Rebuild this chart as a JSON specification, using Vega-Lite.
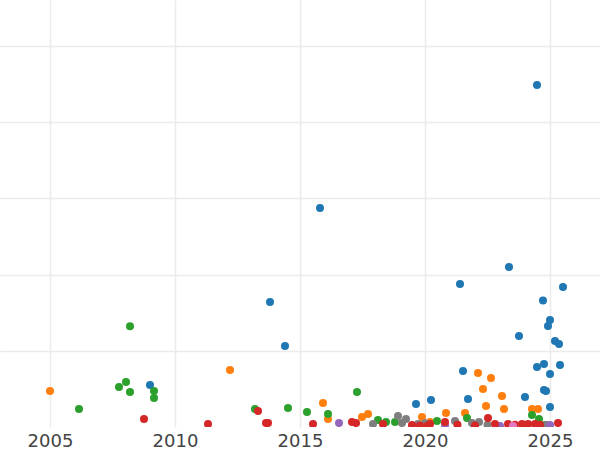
{
  "$schema": "https://vega.github.io/schema/vega-lite/v6.json",
  "width": 600,
  "height": 427,
  "autosize": "none",
  "padding": {"left": 0, "top": 0, "right": 0, "bottom": 23},
  "background": "white",
  "config": {
    "view": {"stroke": null},
    "axis": {"gridColor": "#ebebeb", "gridWidth": 1.5, "domain": false, "ticks": false, "labelFont": "DejaVu Sans", "labelColor": "#444444"}
  },
  "data": {
    "values": [
      {"year": 2024.48, "value": 44.85, "group": "A"},
      {"year": 2015.8, "value": 28.72, "group": "A"},
      {"year": 2023.36, "value": 20.98, "group": "A"},
      {"year": 2021.4, "value": 18.75, "group": "A"},
      {"year": 2025.52, "value": 18.36, "group": "A"},
      {"year": 2013.8, "value": 16.39, "group": "A"},
      {"year": 2024.72, "value": 16.59, "group": "A"},
      {"year": 2025.0, "value": 14.03, "group": "A"},
      {"year": 2024.92, "value": 13.25, "group": "A"},
      {"year": 2023.76, "value": 11.93, "group": "A"},
      {"year": 2025.2, "value": 11.28, "group": "A"},
      {"year": 2025.36, "value": 10.89, "group": "A"},
      {"year": 2014.4, "value": 10.62, "group": "A"},
      {"year": 2024.76, "value": 8.26, "group": "A"},
      {"year": 2024.48, "value": 7.87, "group": "A"},
      {"year": 2025.4, "value": 8.13, "group": "A"},
      {"year": 2021.52, "value": 7.34, "group": "A"},
      {"year": 2025.0, "value": 6.95, "group": "A"},
      {"year": 2024.76, "value": 4.85, "group": "A"},
      {"year": 2024.84, "value": 4.72, "group": "A"},
      {"year": 2009.0, "value": 5.51, "group": "A"},
      {"year": 2021.72, "value": 3.67, "group": "A"},
      {"year": 2024.0, "value": 3.93, "group": "A"},
      {"year": 2020.24, "value": 3.54, "group": "A"},
      {"year": 2019.64, "value": 3.02, "group": "A"},
      {"year": 2025.0, "value": 2.62, "group": "A"},
      {"year": 2005.0, "value": 4.72, "group": "B"},
      {"year": 2012.2, "value": 7.48, "group": "B"},
      {"year": 2015.92, "value": 3.15, "group": "B"},
      {"year": 2016.12, "value": 1.05, "group": "B"},
      {"year": 2017.48, "value": 1.31, "group": "B"},
      {"year": 2017.72, "value": 1.7, "group": "B"},
      {"year": 2019.88, "value": 1.31, "group": "B"},
      {"year": 2020.84, "value": 1.84, "group": "B"},
      {"year": 2020.2, "value": 0.66, "group": "B"},
      {"year": 2021.6, "value": 1.84, "group": "B"},
      {"year": 2022.12, "value": 7.08, "group": "B"},
      {"year": 2022.64, "value": 6.43, "group": "B"},
      {"year": 2022.32, "value": 4.98, "group": "B"},
      {"year": 2023.08, "value": 4.07, "group": "B"},
      {"year": 2022.44, "value": 2.75, "group": "B"},
      {"year": 2023.16, "value": 2.36, "group": "B"},
      {"year": 2024.28, "value": 2.36, "group": "B"},
      {"year": 2024.52, "value": 2.36, "group": "B"},
      {"year": 2006.16, "value": 2.36, "group": "C"},
      {"year": 2007.76, "value": 5.25, "group": "C"},
      {"year": 2008.04, "value": 5.9, "group": "C"},
      {"year": 2008.2, "value": 4.59, "group": "C"},
      {"year": 2008.2, "value": 13.2, "group": "C"},
      {"year": 2009.16, "value": 4.72, "group": "C"},
      {"year": 2009.16, "value": 3.8, "group": "C"},
      {"year": 2013.2, "value": 2.36, "group": "C"},
      {"year": 2014.52, "value": 2.49, "group": "C"},
      {"year": 2015.28, "value": 1.97, "group": "C"},
      {"year": 2016.12, "value": 1.7, "group": "C"},
      {"year": 2017.28, "value": 4.59, "group": "C"},
      {"year": 2018.12, "value": 0.92, "group": "C"},
      {"year": 2018.44, "value": 0.66, "group": "C"},
      {"year": 2018.8, "value": 0.66, "group": "C"},
      {"year": 2020.48, "value": 0.79, "group": "C"},
      {"year": 2021.68, "value": 1.18, "group": "C"},
      {"year": 2024.28, "value": 1.57, "group": "C"},
      {"year": 2024.56, "value": 1.05, "group": "C"},
      {"year": 2024.8, "value": 0.26, "group": "C"},
      {"year": 2017.92, "value": 0.39, "group": "F"},
      {"year": 2018.92, "value": 1.44, "group": "F"},
      {"year": 2019.24, "value": 1.05, "group": "F"},
      {"year": 2019.08, "value": 0.52, "group": "F"},
      {"year": 2019.72, "value": 0.39, "group": "F"},
      {"year": 2021.2, "value": 0.79, "group": "F"},
      {"year": 2021.88, "value": 0.52, "group": "F"},
      {"year": 2022.16, "value": 0.66, "group": "F"},
      {"year": 2024.88, "value": 0.26, "group": "F"},
      {"year": 2020.0, "value": 0.5, "group": "F"},
      {"year": 2022.5, "value": 0.3, "group": "F"},
      {"year": 2016.56, "value": 0.52, "group": "E"},
      {"year": 2020.8, "value": 0.26, "group": "E"},
      {"year": 2023.0, "value": 0.13, "group": "E"},
      {"year": 2025.0, "value": 0.26, "group": "E"},
      {"year": 2019.7, "value": 0.1, "group": "E"},
      {"year": 2008.76, "value": 1.05, "group": "D"},
      {"year": 2011.32, "value": 0.39, "group": "D"},
      {"year": 2013.32, "value": 2.1, "group": "D"},
      {"year": 2013.64, "value": 0.52, "group": "D"},
      {"year": 2013.72, "value": 0.52, "group": "D"},
      {"year": 2015.52, "value": 0.39, "group": "D"},
      {"year": 2017.08, "value": 0.66, "group": "D"},
      {"year": 2017.24, "value": 0.52, "group": "D"},
      {"year": 2018.32, "value": 0.39, "group": "D"},
      {"year": 2019.48, "value": 0.26, "group": "D"},
      {"year": 2020.08, "value": 0.13, "group": "D"},
      {"year": 2020.2, "value": 0.39, "group": "D"},
      {"year": 2020.8, "value": 0.66, "group": "D"},
      {"year": 2022.52, "value": 1.18, "group": "D"},
      {"year": 2022.8, "value": 0.39, "group": "D"},
      {"year": 2023.32, "value": 0.39, "group": "D"},
      {"year": 2023.88, "value": 0.39, "group": "D"},
      {"year": 2024.12, "value": 0.39, "group": "D"},
      {"year": 2024.4, "value": 0.39, "group": "D"},
      {"year": 2025.32, "value": 0.52, "group": "D"},
      {"year": 2024.6, "value": 0.3, "group": "D"},
      {"year": 2021.3, "value": 0.3, "group": "D"},
      {"year": 2022.0, "value": 0.2, "group": "D"},
      {"year": 2023.6, "value": 0.3, "group": "D"},
      {"year": 2019.8, "value": 0.2, "group": "D"},
      {"year": 2023.52, "value": 0.13, "group": "G"}
    ]
  },
  "mark": {"type": "circle", "size": 64, "opacity": 1, "clip": true},
  "encoding": {
    "x": {
      "field": "year", "type": "quantitative",
      "scale": {"domain": [2003, 2027], "nice": false, "zero": false},
      "axis": {"title": null, "values": [2005, 2010, 2015, 2020, 2025], "format": "d", "labelFontSize": 18, "labelPadding": 5}
    },
    "y": {
      "field": "value", "type": "quantitative",
      "scale": {"domain": [0, 56], "nice": false},
      "axis": {"title": null, "values": [10, 20, 30, 40, 50], "labels": false}
    },
    "color": {
      "field": "group", "type": "nominal",
      "scale": {"domain": ["A", "B", "C", "D", "E", "F", "G"], "range": ["#1f77b4", "#ff7f0e", "#2ca02c", "#d62728", "#9467bd", "#7f7f7f", "#e377c2"]},
      "legend": null
    }
  }
}
